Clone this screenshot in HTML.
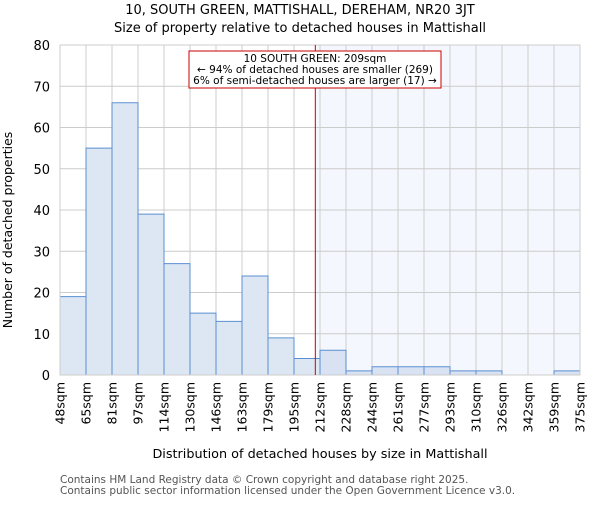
<!DOCTYPE html>
<html><head><meta charset="utf-8"><style>body{margin:0;background:#fff}svg{font-family:"DejaVu Sans","Liberation Sans",sans-serif}</style></head>
<body>
<svg id="c" width="600" height="500" xmlns="http://www.w3.org/2000/svg">
<text x="300" y="14" text-anchor="middle" font-size="13">10, SOUTH GREEN, MATTISHALL, DEREHAM, NR20 3JT</text>
<text x="300" y="32" text-anchor="middle" font-size="13">Size of property relative to detached houses in Mattishall</text>
<g id="g"></g>
<text x="320" y="458" text-anchor="middle" font-size="12.8">Distribution of detached houses by size in Mattishall</text>
<text transform="translate(12,230) rotate(-90)" text-anchor="middle" font-size="12.5">Number of detached properties</text>
<text x="60" y="483" font-size="10.5" fill="#555">Contains HM Land Registry data © Crown copyright and database right 2025.</text>
<text x="60" y="494" font-size="10.5" fill="#555">Contains public sector information licensed under the Open Government Licence v3.0.</text>
</svg>
<script>
const binLabels=["48sqm","65sqm","81sqm","97sqm","114sqm","130sqm","146sqm","163sqm","179sqm","195sqm","212sqm","228sqm","244sqm","261sqm","277sqm","293sqm","310sqm","326sqm","342sqm","359sqm","375sqm"];
const counts=[19,55,66,39,27,15,13,24,9,4,6,1,2,2,2,1,1,0,0,1];
const yTicks=[0,10,20,30,40,50,60,70,80];
const markerIndex=9.82;
const L=60,R=580,T=45,B=375,yMax=80;
const NS="http://www.w3.org/2000/svg",g=document.getElementById('g');
const bw=(R-L)/counts.length;
const xs=i=>L+i*bw, ys=v=>B-(v/yMax)*(B-T);
function mk(t,a,p){const e=document.createElementNS(NS,t);for(const k in a)e.setAttribute(k,a[k]);(p||g).appendChild(e);return e;}
const mx=xs(markerIndex);
let sh=mk('rect',{x:mx,y:T,width:R-mx,height:B-T,fill:'#f4f7fd'});


for(let i=0;i<binLabels.length;i++){let l=mk('line',{x1:xs(i),x2:xs(i),y1:T,y2:B,stroke:'#ccc'});

}
yTicks.forEach(v=>{let l=mk('line',{x1:L,x2:R,y1:ys(v),y2:ys(v),stroke:'#ccc'});


let t=mk('text',{x:L-10,y:ys(v)+5,'text-anchor':'end','font-size':'13'});t.textContent=v;

});
counts.forEach((c,i)=>{if(c<=0)return;let r=mk('rect',{x:xs(i),y:ys(c),width:bw,height:ys(0)-ys(c),fill:i>=10?'#d8e2f2':'#dde7f4',stroke:'#5b8fd0','stroke-width':1});

});
binLabels.forEach((s,i)=>{let t=mk('text',{transform:`translate(${xs(i)+4.5},382) rotate(-90)`,'text-anchor':'end','font-size':'12.5'});t.textContent=s;

});
let ax=mk('rect',{x:L,y:T,width:R-L,height:B-T,fill:'none',stroke:'#ccc'});


let rl=mk('line',{x1:mx,x2:mx,y1:T,y2:B,stroke:'#c00','stroke-width':1});


let ann=mk('g',{});


mk('rect',{x:189,y:51,width:252,height:37,fill:'#fff',stroke:'#c00'},ann);
["10 SOUTH GREEN: 209sqm","← 94% of detached houses are smaller (269)","6% of semi-detached houses are larger (17) →"].forEach((s,i)=>{let t=mk('text',{x:315,y:62+i*11,'text-anchor':'middle','font-size':'10.5'},ann);t.textContent=s;});
</script>
</body></html>
